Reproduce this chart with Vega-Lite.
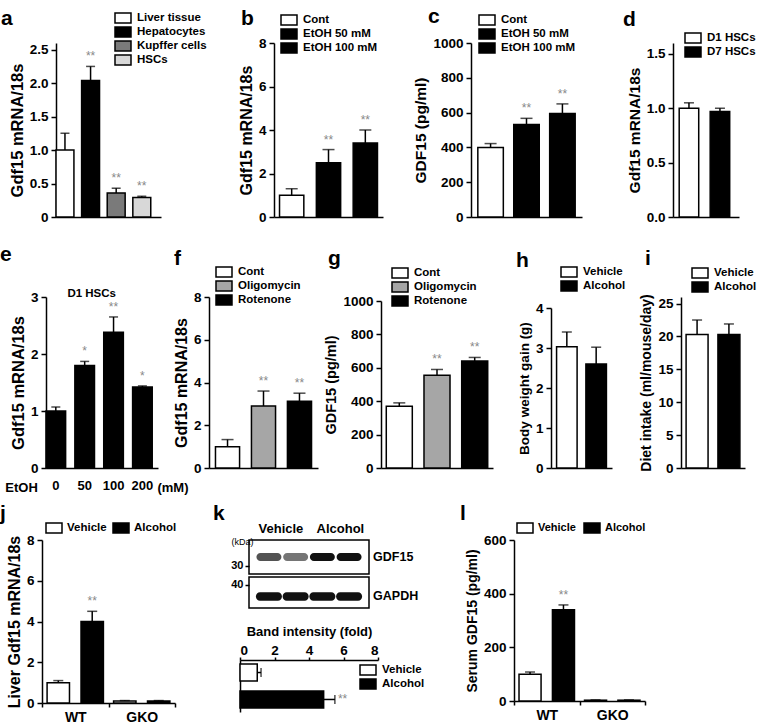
{
"$schema": "https://vega.github.io/schema/vega-lite/v6.json",
"background": "white",
"padding": {"left": 0, "top": 5, "right": 0, "bottom": 0},
"bounds": "flush",
"spacing": 0,
"resolve": {"scale": {"color": "independent", "opacity": "independent"}},
"config": {
 "font": "Liberation Sans",
 "view": {"stroke": null},
 "axis": {"domainColor": "black", "domainWidth": 1.5, "tickColor": "black", "tickWidth": 1.5, "tickSize": 5, "labelColor": "black", "labelFont": "Liberation Sans", "labelFontSize": 13.5, "labelFontWeight": "bold", "labelOverlap": false, "titleColor": "black", "titleFont": "Liberation Sans", "titleFontSize": 14.5, "titleFontWeight": "bold", "grid": false, "labelPadding": 3, "titlePadding": 4},
 "legend": {"orient": "none", "labelFont": "Liberation Sans", "labelFontSize": 11.5, "labelFontWeight": "bold", "labelColor": "black", "symbolType": "M-1.6,-1H1.6V1H-1.6Z", "symbolSize": 100, "symbolStrokeColor": "black", "symbolStrokeWidth": 1.5, "rowPadding": -3, "labelOffset": 8, "padding": 0, "offset": 0},
 "title": {"anchor": "start", "frame": "group", "fontSize": 21, "fontWeight": "bold", "font": "Liberation Sans", "color": "black", "offset": 0},
 "text": {"font": "Liberation Sans"}
},
"vconcat": [
 {
  "hconcat": [
   {"width": 14, "height": 1, "data": {"values": [{}]}, "mark": "text", "encoding": {"text": {"value": ""}}},
   {
    "width": 105, "height": 174,
    "title": {"text": "a", "dx": -55, "dy": 20.5},
    "data": {"values": [
     {"g": "Liver tissue", "v": 1.0, "hi": 1.25, "s": ""},
     {"g": "Hepatocytes", "v": 2.04, "hi": 2.25, "s": "**"},
     {"g": "Kupffer cells", "v": 0.36, "hi": 0.43, "s": "**"},
     {"g": "HSCs", "v": 0.29, "hi": 0.31, "s": "**"}
    ]},
    "encoding": {"x": {"field": "g", "type": "nominal", "sort": null, "scale": {"paddingInner": 0.3, "paddingOuter": 0.2, "align": 0}, "axis": {"labels": false, "ticks": false, "title": null}}},
    "layer": [
     {"mark": {"type": "bar", "stroke": "black", "strokeWidth": 1.5},
      "encoding": {
       "y": {"field": "v", "type": "quantitative", "scale": {"domain": [0, 2.5]}, "axis": {"values": [0, 0.5, 1, 1.5, 2, 2.5], "tickCount": 20, "labelExpr": "datum.value == 0 ? '0' : format(datum.value, '.1f')", "title": "Gdf15 mRNA/18s", "titleFontSize": 16.5}},
       "color": {"field": "g", "type": "nominal", "sort": null, "scale": {"domain": ["Liver tissue", "Hepatocytes", "Kupffer cells", "HSCs"], "range": ["white", "black", "#7a7a7a", "#d8d8d8"]}, "legend": {"orient": "none", "title": null, "rowPadding": -2, "legendX": 61, "legendY": -31}}
      }},
     {"mark": {"type": "rule", "color": "black", "strokeWidth": 1.5}, "encoding": {"y": {"field": "v", "type": "quantitative"}, "y2": {"field": "hi"}}},
     {"mark": {"type": "tick", "color": "black", "thickness": 1.5, "size": 9}, "encoding": {"y": {"field": "hi", "type": "quantitative"}}},
     {"mark": {"type": "text", "baseline": "bottom", "dy": -3, "fontSize": 12, "color": "#888888"}, "encoding": {"y": {"field": "hi", "type": "quantitative"}, "text": {"field": "s"}}}
    ]
   },
   {"width": 113, "height": 1, "data": {"values": [{}]}, "mark": "text", "encoding": {"text": {"value": ""}}},
   {
    "width": 109, "height": 174,
    "title": {"text": "b", "dx": -33, "dy": 18.5},
    "data": {"values": [
     {"g": "Cont", "v": 1.0, "hi": 1.3, "s": ""},
     {"g": "EtOH 50 mM", "v": 2.5, "hi": 3.1, "s": "**"},
     {"g": "EtOH 100 mM", "v": 3.4, "hi": 4.0, "s": "**"}
    ]},
    "encoding": {"x": {"field": "g", "type": "nominal", "sort": null, "scale": {"paddingInner": 0.34, "paddingOuter": 0.15}, "axis": {"labels": false, "ticks": false, "title": null}}},
    "layer": [
     {"mark": {"type": "bar", "stroke": "black", "strokeWidth": 1.5},
      "encoding": {
       "y": {"field": "v", "type": "quantitative", "scale": {"domain": [0, 8]}, "axis": {"values": [0, 2, 4, 6, 8], "tickCount": 20, "format": "d", "title": "Gdf15 mRNA/18s", "titleFontSize": 16}},
       "color": {"field": "g", "type": "nominal", "sort": null, "scale": {"domain": ["Cont", "EtOH 50 mM", "EtOH 100 mM"], "range": ["white", "black", "black"]}, "legend": {"orient": "none", "title": null, "legendX": 9, "legendY": -29}}
      }},
     {"mark": {"type": "rule", "color": "black", "strokeWidth": 1.5}, "encoding": {"y": {"field": "v", "type": "quantitative"}, "y2": {"field": "hi"}}},
     {"mark": {"type": "tick", "color": "black", "thickness": 1.5, "size": 12}, "encoding": {"y": {"field": "hi", "type": "quantitative"}}},
     {"mark": {"type": "text", "baseline": "bottom", "dy": -3, "fontSize": 12, "color": "#888888"}, "encoding": {"y": {"field": "hi", "type": "quantitative"}, "text": {"field": "s"}}}
    ]
   },
   {"width": 88, "height": 1, "data": {"values": [{}]}, "mark": "text", "encoding": {"text": {"value": ""}}},
   {
    "width": 111, "height": 174,
    "title": {"text": "c", "dx": -43, "dy": 16.5},
    "data": {"values": [
     {"g": "Cont", "v": 400, "hi": 422, "s": ""},
     {"g": "EtOH 50 mM", "v": 532, "hi": 567, "s": "**"},
     {"g": "EtOH 100 mM", "v": 595, "hi": 650, "s": "**"}
    ]},
    "encoding": {"x": {"field": "g", "type": "nominal", "sort": null, "scale": {"paddingInner": 0.29, "paddingOuter": 0.19}, "axis": {"labels": false, "ticks": false, "title": null}}},
    "layer": [
     {"mark": {"type": "bar", "stroke": "black", "strokeWidth": 1.5},
      "encoding": {
       "y": {"field": "v", "type": "quantitative", "scale": {"domain": [0, 1000]}, "axis": {"values": [0, 200, 400, 600, 800, 1000], "tickCount": 20, "format": "d", "title": "GDF15 (pg/ml)", "titleFontSize": 15.5}},
       "color": {"field": "g", "type": "nominal", "sort": null, "scale": {"domain": ["Cont", "EtOH 50 mM", "EtOH 100 mM"], "range": ["white", "black", "black"]}, "legend": {"orient": "none", "title": null, "legendX": 10, "legendY": -29}}
      }},
     {"mark": {"type": "rule", "color": "black", "strokeWidth": 1.5}, "encoding": {"y": {"field": "v", "type": "quantitative"}, "y2": {"field": "hi"}}},
     {"mark": {"type": "tick", "color": "black", "thickness": 1.5, "size": 12}, "encoding": {"y": {"field": "hi", "type": "quantitative"}}},
     {"mark": {"type": "text", "baseline": "bottom", "dy": -3, "fontSize": 12, "color": "#888888"}, "encoding": {"y": {"field": "hi", "type": "quantitative"}, "text": {"field": "s"}}}
    ]
   },
   {"width": 91, "height": 1, "data": {"values": [{}]}, "mark": "text", "encoding": {"text": {"value": ""}}},
   {
    "width": 66, "height": 174,
    "title": {"text": "d", "dx": -50, "dy": 1.5},
    "data": {"values": [
     {"g": "D1 HSCs", "v": 1.0, "hi": 1.05, "s": ""},
     {"g": "D7 HSCs", "v": 0.97, "hi": 1.0, "s": ""}
    ]},
    "encoding": {"x": {"field": "g", "type": "nominal", "sort": null, "scale": {"paddingInner": 0.37, "paddingOuter": 0.25, "align": 0.4}, "axis": {"labels": false, "ticks": false, "title": null}}},
    "layer": [
     {"mark": {"type": "bar", "stroke": "black", "strokeWidth": 1.5},
      "encoding": {
       "y": {"field": "v", "type": "quantitative", "scale": {"domain": [0, 1.5]}, "axis": {"values": [0, 0.5, 1, 1.5], "tickCount": 20, "format": ".1f", "title": "Gdf15 mRNA/18s", "titleFontSize": 15.5}},
       "color": {"field": "g", "type": "nominal", "sort": null, "scale": {"domain": ["D1 HSCs", "D7 HSCs"], "range": ["white", "black"]}, "legend": {"orient": "none", "title": null, "legendX": 14, "legendY": -11}}
      }},
     {"mark": {"type": "rule", "color": "black", "strokeWidth": 1.5}, "encoding": {"y": {"field": "v", "type": "quantitative"}, "y2": {"field": "hi"}}},
     {"mark": {"type": "tick", "color": "black", "thickness": 1.5, "size": 10}, "encoding": {"y": {"field": "hi", "type": "quantitative"}}}
    ]
   }
  ],
  "spacing": 0, "bounds": "flush",
  "resolve": {"scale": {"color": "independent"}}
 },
 {"width": 1, "height": 254, "data": {"values": [{}]}, "mark": "text", "encoding": {"text": {"value": ""}}},
 {
  "hconcat": [
   {"width": 4, "height": 1, "data": {"values": [{}]}, "mark": "text", "encoding": {"text": {"value": ""}}},
   {
    "width": 112, "height": 171,
    "title": {"text": "e", "dx": -46, "dy": -19},
    "data": {"values": [
     {"g": "0", "v": 1.0, "hi": 1.07, "s": ""},
     {"g": "50", "v": 1.8, "hi": 1.87, "s": "*"},
     {"g": "100", "v": 2.38, "hi": 2.65, "s": "**"},
     {"g": "200", "v": 1.42, "hi": 1.44, "s": "*"}
    ]},
    "encoding": {"x": {"field": "g", "type": "nominal", "sort": null, "scale": {"paddingInner": 0.32, "paddingOuter": 0.1, "align": 0}, "axis": {"title": null, "ticks": false, "labelAngle": 0, "labelPadding": 11, "labelFontSize": 13}}},
    "layer": [
     {"mark": {"type": "bar", "fill": "black", "stroke": "black", "strokeWidth": 1.5},
      "encoding": {"y": {"field": "v", "type": "quantitative", "scale": {"domain": [0, 3]}, "axis": {"values": [0, 1, 2, 3], "tickCount": 20, "format": "d", "title": "Gdf15 mRNA/18s", "titleFontSize": 16.5}}}},
     {"mark": {"type": "rule", "color": "black", "strokeWidth": 1.5}, "encoding": {"y": {"field": "v", "type": "quantitative"}, "y2": {"field": "hi"}}},
     {"mark": {"type": "tick", "color": "black", "thickness": 1.5, "size": 9}, "encoding": {"y": {"field": "hi", "type": "quantitative"}}},
     {"mark": {"type": "text", "baseline": "bottom", "dy": -3, "fontSize": 12, "color": "#888888"}, "encoding": {"y": {"field": "hi", "type": "quantitative"}, "text": {"field": "s"}}},
     {"data": {"values": [{"t": "D1 HSCs"}]}, "mark": {"type": "text", "fontSize": 11.5, "fontWeight": "bold", "baseline": "middle", "dx": 7}, "encoding": {"x": {"datum": "50", "type": "nominal"}, "y": {"datum": 3.05, "type": "quantitative"}, "text": {"field": "t"}}},
     {"data": {"values": [{"t": "EtOH"}]}, "mark": {"type": "text", "fontSize": 13, "fontWeight": "bold", "baseline": "middle", "align": "right", "dx": -18}, "encoding": {"x": {"datum": "0", "type": "nominal"}, "y": {"datum": -0.35, "type": "quantitative"}, "text": {"field": "t"}}},
     {"data": {"values": [{"t": "(mM)"}]}, "mark": {"type": "text", "fontSize": 13, "fontWeight": "bold", "baseline": "middle", "align": "left", "dx": 15}, "encoding": {"x": {"datum": "200", "type": "nominal"}, "y": {"datum": -0.35, "type": "quantitative"}, "text": {"field": "t"}}}
    ]
   },
   {"width": 51, "height": 1, "data": {"values": [{}]}, "mark": "text", "encoding": {"text": {"value": ""}}},
   {
    "width": 109, "height": 171,
    "title": {"text": "f", "dx": -35, "dy": 7},
    "data": {"values": [
     {"g": "Cont", "v": 1.0, "hi": 1.33, "s": ""},
     {"g": "Oligomycin", "v": 2.9, "hi": 3.6, "s": "**"},
     {"g": "Rotenone", "v": 3.12, "hi": 3.5, "s": "**"}
    ]},
    "encoding": {"x": {"field": "g", "type": "nominal", "sort": null, "scale": {"paddingInner": 0.33, "paddingOuter": 0.18}, "axis": {"labels": false, "ticks": false, "title": null}}},
    "layer": [
     {"mark": {"type": "bar", "stroke": "black", "strokeWidth": 1.5},
      "encoding": {
       "y": {"field": "v", "type": "quantitative", "scale": {"domain": [0, 8]}, "axis": {"values": [0, 2, 4, 6, 8], "tickCount": 20, "format": "d", "title": "Gdf15 mRNA/18s", "titleFontSize": 16}},
       "color": {"field": "g", "type": "nominal", "sort": null, "scale": {"domain": ["Cont", "Oligomycin", "Rotenone"], "range": ["white", "#a6a6a6", "black"]}, "legend": {"orient": "none", "title": null, "legendX": 9, "legendY": -31}}
      }},
     {"mark": {"type": "rule", "color": "black", "strokeWidth": 1.5}, "encoding": {"y": {"field": "v", "type": "quantitative"}, "y2": {"field": "hi"}}},
     {"mark": {"type": "tick", "color": "black", "thickness": 1.5, "size": 12}, "encoding": {"y": {"field": "hi", "type": "quantitative"}}},
     {"mark": {"type": "text", "baseline": "bottom", "dy": -3, "fontSize": 12, "color": "#888888"}, "encoding": {"y": {"field": "hi", "type": "quantitative"}, "text": {"field": "s"}}}
    ]
   },
   {"width": 63, "height": 1, "data": {"values": [{}]}, "mark": "text", "encoding": {"text": {"value": ""}}},
   {
    "vconcat": [
     {"width": 1, "height": 4, "data": {"values": [{}]}, "mark": "text", "encoding": {"text": {"value": ""}}},
     {
      "width": 112, "height": 167,
      "title": {"text": "g", "dx": -53, "dy": 6},
      "data": {"values": [
       {"g": "Cont", "v": 370, "hi": 390, "s": ""},
       {"g": "Oligomycin", "v": 555, "hi": 590, "s": "**"},
       {"g": "Rotenone", "v": 640, "hi": 662, "s": "**"}
      ]},
      "encoding": {"x": {"field": "g", "type": "nominal", "sort": null, "scale": {"paddingInner": 0.31, "paddingOuter": 0.14}, "axis": {"labels": false, "ticks": false, "title": null}}},
      "layer": [
       {"mark": {"type": "bar", "stroke": "black", "strokeWidth": 1.5},
        "encoding": {
         "y": {"field": "v", "type": "quantitative", "scale": {"domain": [0, 1000]}, "axis": {"values": [0, 200, 400, 600, 800, 1000], "tickCount": 20, "format": "d", "title": "GDF15 (pg/ml)", "titleFontSize": 14.5}},
         "color": {"field": "g", "type": "nominal", "sort": null, "scale": {"domain": ["Cont", "Oligomycin", "Rotenone"], "range": ["white", "#a6a6a6", "black"]}, "legend": {"orient": "none", "title": null, "legendX": 13, "legendY": -34}}
        }},
       {"mark": {"type": "rule", "color": "black", "strokeWidth": 1.5}, "encoding": {"y": {"field": "v", "type": "quantitative"}, "y2": {"field": "hi"}}},
       {"mark": {"type": "tick", "color": "black", "thickness": 1.5, "size": 12}, "encoding": {"y": {"field": "hi", "type": "quantitative"}}},
       {"mark": {"type": "text", "baseline": "bottom", "dy": -3, "fontSize": 12, "color": "#888888"}, "encoding": {"y": {"field": "hi", "type": "quantitative"}, "text": {"field": "s"}}}
      ]
     }
    ],
    "spacing": 0, "bounds": "flush",
    "resolve": {"scale": {"color": "independent"}}
   },
   {"width": 170, "height": 1, "data": {"values": [{}]}, "mark": "text", "encoding": {"text": {"value": ""}}},
   {
    "vconcat": [
     {"width": 1, "height": 11, "data": {"values": [{}]}, "mark": "text", "encoding": {"text": {"value": ""}}},
     {
      "width": 61, "height": 160,
      "title": {"text": "h", "dx": -35, "dy": 9},
      "data": {"values": [
       {"g": "Vehicle", "v": 3.03, "hi": 3.4},
       {"g": "Alcohol", "v": 2.6, "hi": 3.02}
      ]},
      "encoding": {"x": {"field": "g", "type": "nominal", "sort": null, "scale": {"paddingInner": 0.3, "paddingOuter": 0.19}, "axis": {"labels": false, "ticks": false, "title": null}}},
      "layer": [
       {"mark": {"type": "bar", "stroke": "black", "strokeWidth": 1.5},
        "encoding": {
         "y": {"field": "v", "type": "quantitative", "scale": {"domain": [0, 4]}, "axis": {"values": [0, 1, 2, 3, 4], "tickCount": 20, "format": "d", "title": "Body weight gain (g)", "titleFontSize": 13.5}},
         "color": {"field": "g", "type": "nominal", "sort": null, "scale": {"domain": ["Vehicle", "Alcohol"], "range": ["white", "black"]}, "legend": {"orient": "none", "title": null, "legendX": 12, "legendY": -42}}
        }},
       {"mark": {"type": "rule", "color": "black", "strokeWidth": 1.5}, "encoding": {"y": {"field": "v", "type": "quantitative"}, "y2": {"field": "hi"}}},
       {"mark": {"type": "tick", "color": "black", "thickness": 1.5, "size": 10}, "encoding": {"y": {"field": "hi", "type": "quantitative"}}}
      ]
     }
    ],
    "spacing": 0, "bounds": "flush",
    "resolve": {"scale": {"color": "independent"}}
   },
   {"width": 130, "height": 1, "data": {"values": [{}]}, "mark": "text", "encoding": {"text": {"value": ""}}},
   {
    "width": 64, "height": 171,
    "title": {"text": "i", "dx": -36, "dy": 6},
    "data": {"values": [
     {"g": "Vehicle", "v": 20.3, "hi": 22.5},
     {"g": "Alcohol", "v": 20.3, "hi": 21.9}
    ]},
    "encoding": {"x": {"field": "g", "type": "nominal", "sort": null, "scale": {"paddingInner": 0.31, "paddingOuter": 0.16}, "axis": {"labels": false, "ticks": false, "title": null}}},
    "layer": [
     {"mark": {"type": "bar", "stroke": "black", "strokeWidth": 1.5},
      "encoding": {
       "y": {"field": "v", "type": "quantitative", "scale": {"domain": [0, 25]}, "axis": {"values": [0, 5, 10, 15, 20, 25], "tickCount": 20, "format": "d", "title": "Diet intake (ml/mouse/day)", "titleFontSize": 14}},
       "color": {"field": "g", "type": "nominal", "sort": null, "scale": {"domain": ["Vehicle", "Alcohol"], "range": ["white", "black"]}, "legend": {"orient": "none", "title": null, "legendX": 13, "legendY": -30}}
      }},
     {"mark": {"type": "rule", "color": "black", "strokeWidth": 1.5}, "encoding": {"y": {"field": "v", "type": "quantitative"}, "y2": {"field": "hi"}}},
     {"mark": {"type": "tick", "color": "black", "thickness": 1.5, "size": 10}, "encoding": {"y": {"field": "hi", "type": "quantitative"}}}
    ]
   }
  ],
  "spacing": 0, "bounds": "flush",
  "resolve": {"scale": {"color": "independent"}}
 },
 {"width": 1, "height": 243, "data": {"values": [{}]}, "mark": "text", "encoding": {"text": {"value": ""}}},
 {
  "hconcat": [
   {
    "width": 133, "height": 163,
    "title": {"text": "j", "dx": -42, "dy": 6},
    "data": {"values": [
     {"grp": "WT", "t": "Vehicle", "v": 1.0, "hi": 1.1, "s": ""},
     {"grp": "WT", "t": "Alcohol", "v": 4.0, "hi": 4.5, "s": "**"},
     {"grp": "GKO", "t": "Vehicle", "v": 0.1, "hi": 0.12, "s": ""},
     {"grp": "GKO", "t": "Alcohol", "v": 0.1, "hi": 0.12, "s": ""}
    ]},
    "encoding": {
     "x": {"field": "grp", "type": "nominal", "sort": null, "scale": {"paddingInner": 0, "paddingOuter": 0}, "axis": {"title": null, "labelAngle": 0, "tickBand": "extent", "labelFontSize": 14, "labelPadding": 3, "tickSize": 4}},
     "xOffset": {"field": "t", "type": "nominal", "sort": null, "scale": {"paddingInner": 0.34, "paddingOuter": 0.15}}
    },
    "layer": [
     {"mark": {"type": "bar", "stroke": "black", "strokeWidth": 1.5},
      "encoding": {
       "y": {"field": "v", "type": "quantitative", "scale": {"domain": [0, 8]}, "axis": {"values": [0, 2, 4, 6, 8], "tickCount": 20, "format": "d", "title": "Liver Gdf15 mRNA/18s", "titleFontSize": 16}},
       "color": {"field": "t", "type": "nominal", "sort": null, "scale": {"domain": ["Vehicle", "Alcohol"], "range": ["white", "black"]}, "legend": {"orient": "none", "title": null, "direction": "horizontal", "columns": 2, "columnPadding": 3, "labelOffset": 7, "legendX": 6, "legendY": -18}}
      }},
     {"mark": {"type": "rule", "color": "black", "strokeWidth": 1.5}, "encoding": {"y": {"field": "v", "type": "quantitative"}, "y2": {"field": "hi"}}},
     {"mark": {"type": "tick", "color": "black", "thickness": 1.5, "size": 10}, "encoding": {"y": {"field": "hi", "type": "quantitative"}}},
     {"mark": {"type": "text", "baseline": "bottom", "dy": -3, "fontSize": 12, "color": "#888888"}, "encoding": {"y": {"field": "hi", "type": "quantitative"}, "text": {"field": "s"}}}
    ]
   },
   {"width": 65, "height": 1, "data": {"values": [{}]}, "mark": "text", "encoding": {"text": {"value": ""}}},
   {
    "vconcat": [
     {"width": 1, "height": 120, "data": {"values": [{}]}, "mark": "text", "encoding": {"text": {"value": ""}}},
     {
      "width": 138, "height": 52,
      "data": {"values": [
       {"t": "Vehicle", "v": 1.0, "hi": 1.22, "s": ""},
       {"t": "Alcohol", "v": 4.85, "hi": 5.5, "s": "**"}
      ]},
      "encoding": {"y": {"field": "t", "type": "nominal", "sort": null, "scale": {"paddingInner": 0.37, "paddingOuter": 0.15}, "axis": {"labels": false, "ticks": false, "title": null}}},
      "layer": [
       {"mark": {"type": "bar", "stroke": "black", "strokeWidth": 1.5},
        "encoding": {
         "x": {"field": "v", "type": "quantitative", "scale": {"domain": [0, 8]}, "axis": {"orient": "top", "values": [0, 2, 4, 6, 8], "tickCount": 20, "format": "d", "title": "Band intensity (fold)", "titleFontSize": 13, "titlePadding": 5, "labelPadding": 0, "tickSize": 3}},
         "color": {"field": "t", "type": "nominal", "sort": null, "scale": {"domain": ["Vehicle", "Alcohol"], "range": ["white", "black"]}, "legend": {"orient": "none", "title": null, "legendX": 122, "legendY": 4}}
        }},
       {"mark": {"type": "rule", "color": "black", "strokeWidth": 1.5}, "encoding": {"x": {"field": "v", "type": "quantitative"}, "x2": {"field": "hi"}}},
       {"mark": {"type": "tick", "color": "black", "thickness": 1.5, "size": 9}, "encoding": {"x": {"field": "hi", "type": "quantitative"}}},
       {"mark": {"type": "text", "align": "left", "baseline": "middle", "dx": 3, "fontSize": 12, "color": "#888888"}, "encoding": {"x": {"field": "hi", "type": "quantitative"}, "text": {"field": "s"}}}
      ]
     }
    ],
    "spacing": 0, "bounds": "flush",
    "resolve": {"scale": {"color": "independent"}}
   },
   {"width": 9, "height": 1, "data": {"values": [{}]}, "mark": "text", "encoding": {"text": {"value": ""}}},
   {
    "vconcat": [
     {
      "width": 120, "height": 34,
      "view": {"stroke": "black", "strokeWidth": 1.5},
      "title": {"text": "k", "dx": -36, "dy": 6},
      "data": {"values": [
       {"lane": "L1", "kda": 32, "int": 0.72},
       {"lane": "L2", "kda": 32, "int": 0.58},
       {"lane": "L3", "kda": 32, "int": 1},
       {"lane": "L4", "kda": 32, "int": 1}
      ]},
      "encoding": {"x": {"field": "lane", "type": "nominal", "sort": null, "scale": {"paddingInner": 0.07, "paddingOuter": 0.28}, "axis": {"orient": "top", "labelOffset": {"condition": {"test": "datum.value == 'L1'", "value": 12}, "value": 18}, "labelExpr": "datum.value == 'L1' ? 'Vehicle' : datum.value == 'L3' ? 'Alcohol' : ''", "labelOverlap": false, "ticks": false, "domain": false, "title": null, "labelAngle": 0, "labelFontSize": 13, "labelPadding": 5}}},
      "layer": [
       {"mark": {"type": "tick", "thickness": 8, "size": 25, "cornerRadius": 4, "color": "#111111"},
        "encoding": {
         "y": {"field": "kda", "type": "quantitative", "scale": {"domain": [28.8, 36]}, "axis": {"values": [30], "tickCount": 20, "format": "d", "domain": false, "title": "(kDa)", "titleAngle": 0, "titleFontSize": 9, "titleFontWeight": "normal", "titleAlign": "right", "titleBaseline": "middle", "titleX": 4, "titleY": 1, "labelFontSize": 11, "tickSize": 4, "labelPadding": 2}},
         "opacity": {"field": "int", "type": "quantitative", "scale": {"domain": [0, 1], "range": [0, 1]}, "legend": null}
        }},
       {"data": {"values": [{"n": "GDF15"}]}, "mark": {"type": "text", "align": "left", "baseline": "middle", "dx": 24, "fontSize": 12.5, "fontWeight": "bold"}, "encoding": {"x": {"datum": "L4", "type": "nominal"}, "y": {"datum": 32, "type": "quantitative"}, "text": {"field": "n"}}}
      ]
     },
     {
      "width": 120, "height": 31,
      "view": {"stroke": "black", "strokeWidth": 1.5},
      "data": {"values": [
       {"lane": "L1", "kda": 37, "int": 1},
       {"lane": "L2", "kda": 37, "int": 1},
       {"lane": "L3", "kda": 37, "int": 1},
       {"lane": "L4", "kda": 37, "int": 1}
      ]},
      "encoding": {"x": {"field": "lane", "type": "nominal", "sort": null, "scale": {"paddingInner": 0.07, "paddingOuter": 0.28}, "axis": null}},
      "layer": [
       {"mark": {"type": "tick", "thickness": 8.5, "size": 26, "cornerRadius": 4, "color": "#111111"},
        "encoding": {
         "y": {"field": "kda", "type": "quantitative", "scale": {"domain": [34, 41.3]}, "axis": {"values": [40], "tickCount": 20, "format": "d", "domain": false, "title": null, "labelFontSize": 11, "tickSize": 4, "labelPadding": 2}},
         "opacity": {"field": "int", "type": "quantitative", "scale": {"domain": [0, 1], "range": [0, 1]}, "legend": null}
        }},
       {"data": {"values": [{"n": "GAPDH"}]}, "mark": {"type": "text", "align": "left", "baseline": "middle", "dx": 24, "fontSize": 12.5, "fontWeight": "bold"}, "encoding": {"x": {"datum": "L4", "type": "nominal"}, "y": {"datum": 37, "type": "quantitative"}, "text": {"field": "n"}}}
      ]
     }
    ],
    "spacing": 3, "bounds": "flush",
    "resolve": {"scale": {"color": "independent", "opacity": "independent"}}
   },
   {"width": 265, "height": 1, "data": {"values": [{}]}, "mark": "text", "encoding": {"text": {"value": ""}}},
   {
    "width": 131, "height": 161,
    "title": {"text": "l", "dx": -54, "dy": 6},
    "data": {"values": [
     {"grp": "WT", "t": "Vehicle", "v": 100, "hi": 108, "s": ""},
     {"grp": "WT", "t": "Alcohol", "v": 340, "hi": 358, "s": "**"},
     {"grp": "GKO", "t": "Vehicle", "v": 3, "hi": 4, "s": ""},
     {"grp": "GKO", "t": "Alcohol", "v": 3, "hi": 4, "s": ""}
    ]},
    "encoding": {
     "x": {"field": "grp", "type": "nominal", "sort": null, "scale": {"paddingInner": 0, "paddingOuter": 0}, "axis": {"title": null, "labelAngle": 0, "tickBand": "extent", "labelFontSize": 14, "labelPadding": 3, "tickSize": 4}},
     "xOffset": {"field": "t", "type": "nominal", "sort": null, "scale": {"paddingInner": 0.34, "paddingOuter": 0.15}}
    },
    "layer": [
     {"mark": {"type": "bar", "stroke": "black", "strokeWidth": 1.5},
      "encoding": {
       "y": {"field": "v", "type": "quantitative", "scale": {"domain": [0, 600]}, "axis": {"values": [0, 200, 400, 600], "tickCount": 20, "format": "d", "title": "Serum GDF15 (pg/ml)", "titleFontSize": 14}},
       "color": {"field": "t", "type": "nominal", "sort": null, "scale": {"domain": ["Vehicle", "Alcohol"], "range": ["white", "black"]}, "legend": {"orient": "none", "title": null, "direction": "horizontal", "columns": 2, "columnPadding": 5, "labelOffset": 7, "labelFontSize": 11, "legendX": 5, "legendY": -18}}
      }},
     {"mark": {"type": "rule", "color": "black", "strokeWidth": 1.5}, "encoding": {"y": {"field": "v", "type": "quantitative"}, "y2": {"field": "hi"}}},
     {"mark": {"type": "tick", "color": "black", "thickness": 1.5, "size": 10}, "encoding": {"y": {"field": "hi", "type": "quantitative"}}},
     {"mark": {"type": "text", "baseline": "bottom", "dy": -3, "fontSize": 12, "color": "#888888"}, "encoding": {"y": {"field": "hi", "type": "quantitative"}, "text": {"field": "s"}}}
    ]
   }
  ],
  "spacing": 0, "bounds": "flush",
  "resolve": {"scale": {"color": "independent", "opacity": "independent", "xOffset": "independent"}}
 }
]
}
